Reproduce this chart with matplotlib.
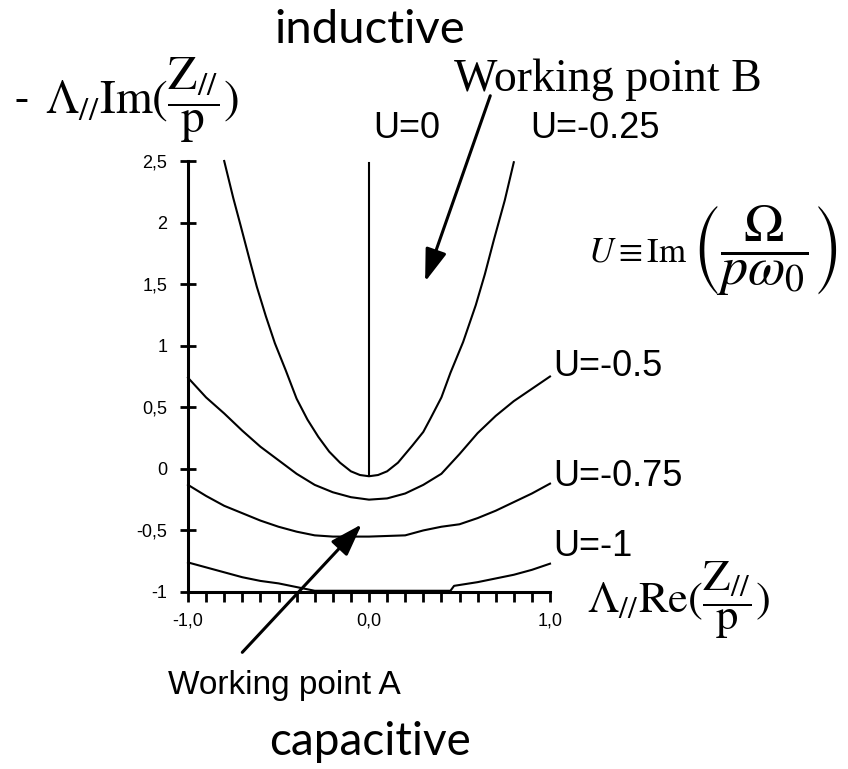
import matplotlib
matplotlib.use("Agg")
import matplotlib.pyplot as plt

plt.rcParams['mathtext.fontset'] = 'stix'

# curve data, one array per U value
x_u025 = [-0.80, -0.75, -0.71, -0.66, -0.62, -0.57, -0.52, -0.46, -0.40, -0.34, -0.28, -0.22, -0.16, -0.10, -0.05,
          0.0, 0.05, 0.10, 0.16, 0.24, 0.30, 0.34, 0.40, 0.45, 0.52, 0.59, 0.64, 0.69, 0.75, 0.80]
y_u025 = [2.50, 2.20, 1.98, 1.70, 1.48, 1.24, 1.02, 0.80, 0.57, 0.40, 0.26, 0.14, 0.05, -0.02, -0.05,
          -0.06, -0.05, -0.02, 0.05, 0.19, 0.30, 0.41, 0.58, 0.78, 1.03, 1.33, 1.58, 1.86, 2.18, 2.49]

x_u05 = [-1.0, -0.9, -0.8, -0.7, -0.6, -0.5, -0.4, -0.3, -0.2, -0.1, 0.0, 0.1, 0.2, 0.3, 0.4, 0.5, 0.6, 0.7, 0.8, 0.9, 1.0]
y_u05 = [0.74, 0.58, 0.45, 0.31, 0.18, 0.07, -0.04, -0.13, -0.19, -0.23, -0.25, -0.24, -0.20, -0.13, -0.04,
         0.12, 0.29, 0.43, 0.55, 0.65, 0.75]

x_u075 = [-1.0, -0.9, -0.8, -0.7, -0.6, -0.5, -0.4, -0.3, -0.2, 0.0, 0.2, 0.3, 0.4, 0.5, 0.6, 0.7, 0.8, 0.9, 1.0]
y_u075 = [-0.13, -0.22, -0.30, -0.36, -0.42, -0.47, -0.51, -0.54, -0.55, -0.55, -0.54, -0.50, -0.47, -0.45,
          -0.40, -0.34, -0.27, -0.20, -0.12]

x_u1 = [-1.0, -0.9, -0.8, -0.7, -0.6, -0.5, -0.4, -0.3, 0.0, 0.45, 0.47, 0.6, 0.7, 0.8, 0.9, 1.0]
y_u1 = [-0.76, -0.80, -0.84, -0.88, -0.91, -0.93, -0.96, -0.99, -0.99, -0.99, -0.95, -0.92, -0.89, -0.86, -0.82, -0.77]

x_u0 = [0.0, 0.0]
y_u0 = [2.48, -0.05]

yticks = [-1, -0.5, 0, 0.5, 1, 1.5, 2, 2.5]
ytick_labels = ['-1', '-0,5', '0', '0,5', '1', '1,5', '2', '2,5']
xticks = [-1.0, 0.0, 1.0]
xtick_labels = ['-1,0', '0,0', '1,0']

lw = 1.5
fs = 26
sans = 'Liberation Sans'

fig = plt.figure(figsize=(8.48, 7.69), dpi=100)
ax = fig.add_axes([188/848, 1 - 592/769, 362/848, 431/769])

for xs, ys in [(x_u025, y_u025), (x_u05, y_u05), (x_u075, y_u075), (x_u1, y_u1), (x_u0, y_u0)]:
    ax.plot(xs, ys, color='black', linewidth=lw, clip_on=False)

ax.set_xlim(-1, 1)
ax.set_ylim(-1, 2.5)
for s in ['top', 'right']:
    ax.spines[s].set_visible(False)
for s in ['left', 'bottom']:
    ax.spines[s].set_linewidth(2.2)

ax.set_yticks(yticks)
ax.set_yticklabels(ytick_labels, fontname=sans, fontsize=13)
ax.set_xticks(xticks)
ax.set_xticklabels(xtick_labels, fontname=sans, fontsize=13)
ax.set_xticks([i / 10 for i in range(-10, 11)], minor=True)
ax.tick_params(axis='y', direction='inout', length=12, width=2, pad=9)
ax.tick_params(axis='x', which='both', direction='out', length=7, width=2, pad=8)

# curve labels
ax.text(0.21, 2.76, 'U=0', fontname=sans, fontsize=fs, ha='center', va='center')
ax.text(0.89, 2.76, 'U=-0.25', fontname=sans, fontsize=fs, ha='left', va='center')
ax.text(1.02, 0.83, 'U=-0.5', fontname=sans, fontsize=fs, ha='left', va='center', clip_on=False)
ax.text(1.02, -0.06, 'U=-0.75', fontname=sans, fontsize=fs, ha='left', va='center', clip_on=False)
ax.text(1.02, -0.63, 'U=-1', fontname=sans, fontsize=fs, ha='left', va='center', clip_on=False)

# working points
arrow = dict(arrowstyle='-|>,head_length=0.9,head_width=0.3',
             color='black', lw=2.2, mutation_scale=22, shrinkA=0, shrinkB=0)
ax.annotate('', xy=(-0.04, -0.45), xytext=(-0.70, -1.49), arrowprops=arrow, annotation_clip=False)
ax.text(-0.47, -1.76, 'Working point A', fontname=sans, fontsize=24, ha='center', va='center')

ax.annotate('', xy=(0.31, 1.52), xytext=(0.67, 3.03), arrowprops=arrow, annotation_clip=False)
ax.text(0.47, 3.07, 'Working point B', fontname='Liberation Serif', fontsize=33,
        ha='left', va='baseline')

# axis labels
fig.text(15/848, 1 - 100/769, '-', fontsize=30, fontname='Liberation Serif', ha='left', va='center')
fig.text(45/848, 1 - 100/769, r'$\Lambda_{//}\mathrm{Im}(\dfrac{\mathrm{Z}_{//}}{\mathrm{p}})$',
         fontsize=34, ha='left', va='center')
fig.text(587/848, 1 - 600/769, r'$\Lambda_{//}\mathrm{Re}(\dfrac{\mathrm{Z}_{//}}{\mathrm{p}})$',
         fontsize=32, ha='left', va='center')

# definition of U
fig.text(588/848, 1 - 252/769, r'$U \equiv \mathrm{Im}$', fontsize=25, ha='left', va='center')
fig.text(692/848, 1 - 250/769, r'$\left(\dfrac{\Omega}{p\omega_0}\right)$',
         fontsize=39, ha='left', va='center')

fig.text(370/848, 1 - 30/769, 'inductive', fontname='Lato', fontsize=34, ha='center', va='center')
fig.text(370/848, 1 - 742/769, 'capacitive', fontname='Lato', fontsize=33, ha='center', va='center')

fig.savefig('out.png', dpi=100)
